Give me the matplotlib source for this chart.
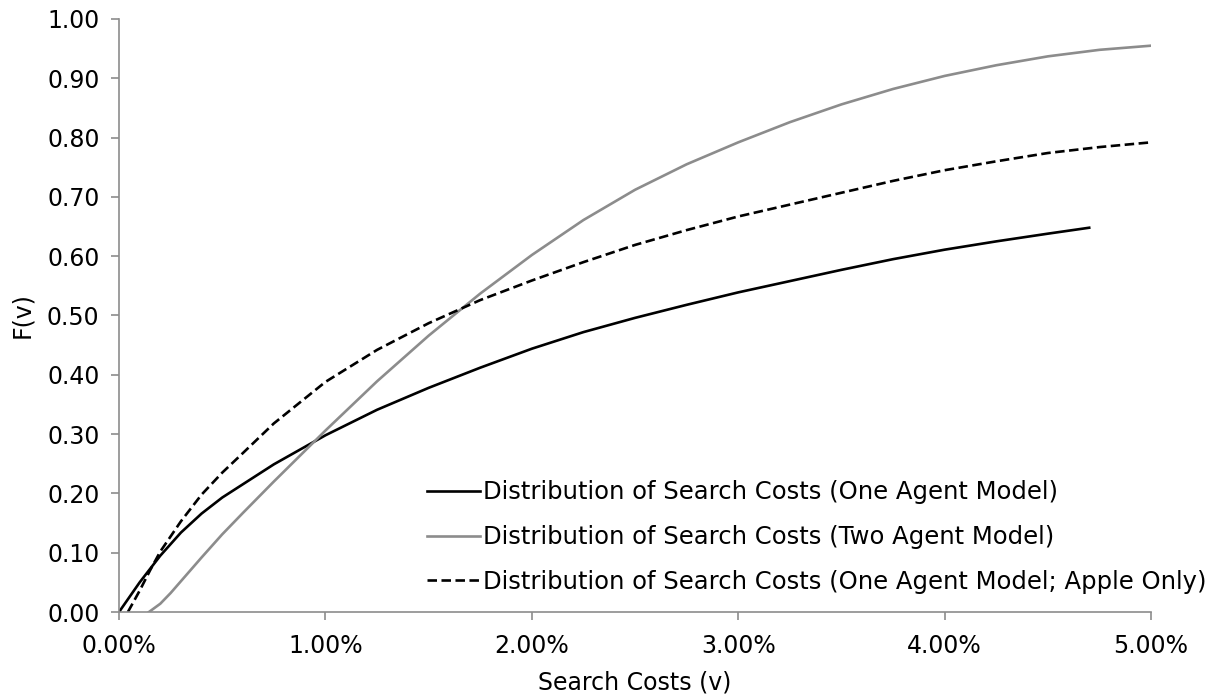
import numpy as np
import matplotlib
matplotlib.use('Agg')
import matplotlib.pyplot as plt
from matplotlib.ticker import FuncFormatter

# search cost in percent
x_one = [0.0, 0.1, 0.2, 0.3, 0.4, 0.5, 0.75, 1.0, 1.25, 1.5, 1.75, 2.0, 2.25,
         2.5, 2.75, 3.0, 3.25, 3.5, 3.75, 4.0, 4.25, 4.5, 4.7]
f_one = [0.0, 0.050, 0.095, 0.134, 0.166, 0.193, 0.249, 0.298, 0.341, 0.378,
         0.412, 0.444, 0.472, 0.496, 0.518, 0.539, 0.558, 0.577, 0.595, 0.611,
         0.625, 0.638, 0.648]

x_two = [0.145, 0.2, 0.25, 0.3, 0.4, 0.5, 0.6, 0.75, 1.0, 1.25, 1.5, 1.75, 2.0,
         2.25, 2.5, 2.75, 3.0, 3.25, 3.5, 3.75, 4.0, 4.25, 4.5, 4.75, 5.0]
f_two = [0.0, 0.014, 0.032, 0.052, 0.092, 0.131, 0.167, 0.220, 0.306, 0.389,
         0.466, 0.537, 0.602, 0.661, 0.712, 0.755, 0.792, 0.826, 0.856, 0.882,
         0.904, 0.922, 0.937, 0.948, 0.955]

x_apple = [0.043, 0.1, 0.15, 0.2, 0.3, 0.4, 0.5, 0.6, 0.75, 1.0, 1.25, 1.5,
           1.75, 2.0, 2.25, 2.5, 2.75, 3.0, 3.25, 3.5, 3.75, 4.0, 4.25, 4.5,
           4.75, 5.0]
f_apple = [0.0, 0.036, 0.070, 0.102, 0.153, 0.198, 0.235, 0.268, 0.318, 0.388,
           0.442, 0.487, 0.526, 0.559, 0.590, 0.619, 0.644, 0.667, 0.687, 0.707,
           0.727, 0.745, 0.760, 0.774, 0.784, 0.792]

labels = ['Distribution of Search Costs (One Agent Model)',
          'Distribution of Search Costs (Two Agent Model)',
          'Distribution of Search Costs (One Agent Model; Apple Only)']

plt.rcParams['font.family'] = ['DejaVu Sans']
fs = 17

fig = plt.figure(figsize=(12.22, 6.98), dpi=100)
ax = fig.add_axes([0.0974, 0.1232, 0.8446, 0.8496])

ax.plot(x_one, f_one, color='black', lw=1.9, label=labels[0])
ax.plot(x_two, f_two, color='#8c8c8c', lw=1.9, label=labels[1])
ax.plot(x_apple, f_apple, color='black', lw=1.9, dashes=(3.6, 1.7), label=labels[2])

ax.set_xlim(0, 5)
ax.set_ylim(0, 1)
ax.set_xticks(np.arange(0, 5.01, 1))
ax.set_yticks(np.arange(0, 1.01, 0.1))
ax.xaxis.set_major_formatter(FuncFormatter(lambda v, p: '%.2f%%' % v))
ax.yaxis.set_major_formatter(FuncFormatter(lambda v, p: '%.2f' % v))

for s in ['top', 'right']:
    ax.spines[s].set_visible(False)
for s in ['left', 'bottom']:
    ax.spines[s].set_color('#8c8c8c')
    ax.spines[s].set_linewidth(1.2)
ax.tick_params(colors='#8c8c8c', labelcolor='black', labelsize=fs,
               length=6, width=1.2, direction='out')
ax.tick_params(axis='x', pad=10)
ax.tick_params(axis='y', pad=8)

ax.set_xlabel('Search Costs (v)', fontsize=fs, labelpad=9)
ax.set_ylabel('F(v)', fontsize=fs, labelpad=9)

leg = ax.legend(loc='lower right', bbox_to_anchor=(1.005, 0.118),
                bbox_transform=fig.transFigure, frameon=False, fontsize=17.5,
                handlelength=2.2, handletextpad=0.1, labelspacing=0.85)

fig.savefig('out.png', dpi=100)
